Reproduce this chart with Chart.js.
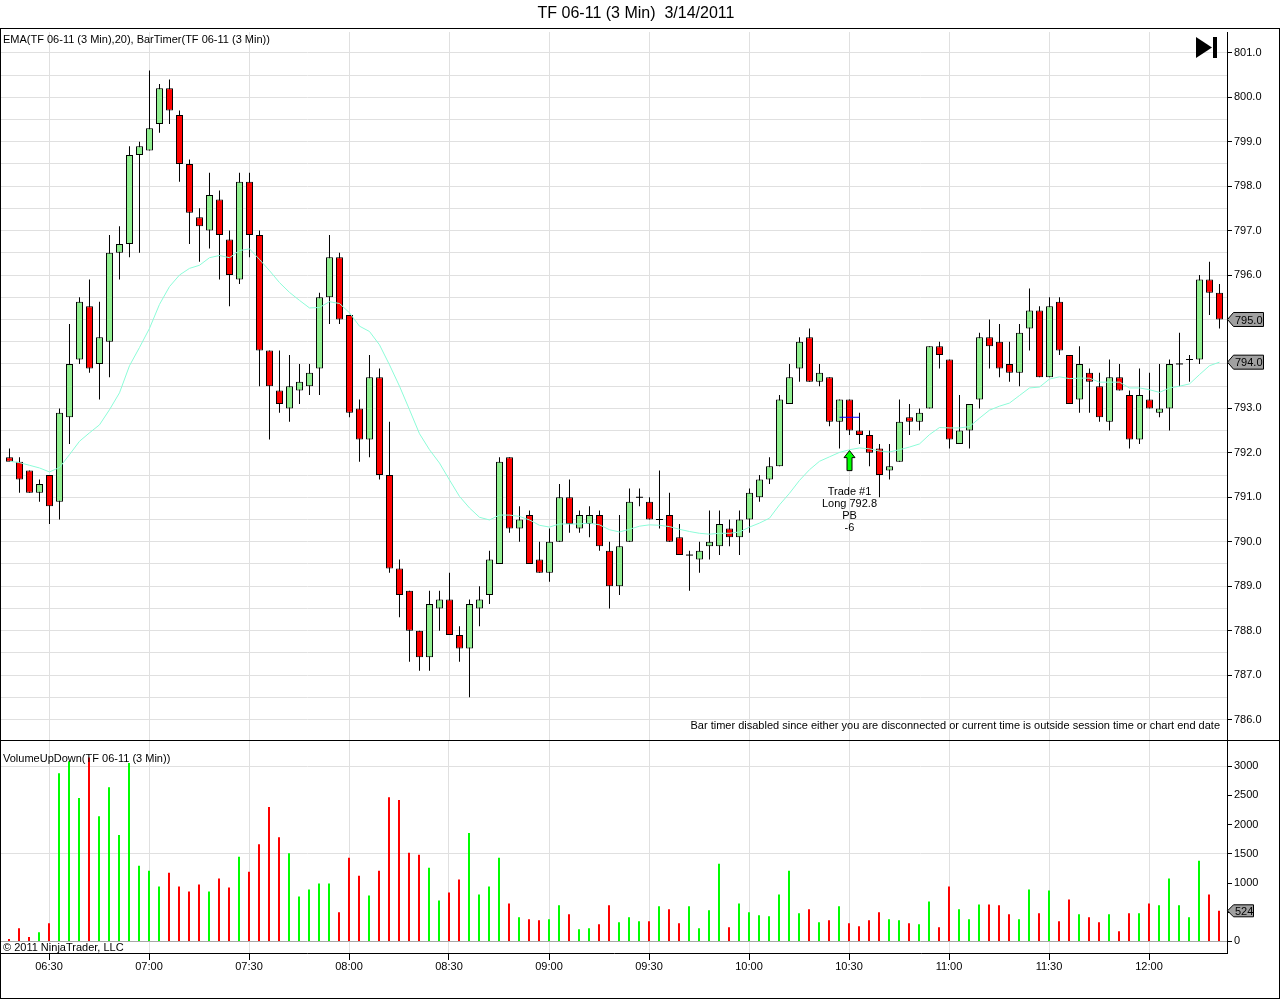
<!DOCTYPE html>
<html>
<head>
<meta charset="utf-8">
<title>TF 06-11 (3 Min) 3/14/2011</title>
<script src="https://cdn.jsdelivr.net/npm/chart.js@4"></script>
<style>
  html, body { margin: 0; padding: 0; background: #fff; }
  canvas { position: absolute; left: 0; }
  #priceChart { top: 0; }
  #volumeChart { top: 741px; }
  #frame { position: absolute; left: 0; top: 28px; width: 1278px; height: 969px; border: 1px solid #000; pointer-events: none; }
  #split { position: absolute; left: 0; top: 740px; width: 1280px; height: 1px; background: #000; }
</style>
</head>
<body>
<canvas id="priceChart" width="1280" height="741"></canvas>
<canvas id="volumeChart" width="1280" height="257"></canvas>
<div id="frame"></div>
<div id="split"></div>
<script>
// ===== Data =====
const barTimes = [
  '06:18','06:21','06:24','06:27','06:30','06:33','06:36','06:39','06:42','06:45','06:48','06:51','06:54','06:57',
  '07:00','07:03','07:06','07:09','07:12','07:15','07:18','07:21','07:24','07:27','07:30','07:33','07:36','07:39','07:42','07:45','07:48','07:51','07:54','07:57',
  '08:00','08:03','08:06','08:09','08:12','08:15','08:18','08:21','08:24','08:27','08:30','08:33','08:36','08:39','08:42','08:45','08:48','08:51','08:54','08:57',
  '09:00','09:03','09:06','09:09','09:12','09:15','09:18','09:21','09:24','09:27','09:30','09:33','09:36','09:39','09:42','09:45','09:48','09:51','09:54','09:57',
  '10:00','10:03','10:06','10:09','10:12','10:15','10:18','10:21','10:24','10:27','10:30','10:33','10:36','10:39','10:42','10:45','10:48','10:51','10:54','10:57',
  '11:00','11:03','11:06','11:09','11:12','11:15','11:18','11:21','11:24','11:27','11:30','11:33','11:36','11:39','11:42','11:45','11:48','11:51','11:54','11:57',
  '12:00','12:03','12:06','12:09','12:12','12:15','12:18','12:21'
];
const opens = [
  791.9,791.8,791.6,791.1,791.5,790.9,792.8,794.1,795.3,794.0,794.5,796.5,796.7,798.7,798.8,799.4,800.2,799.6,798.5,797.3,
  797.0,797.7,796.8,795.9,798.1,796.9,794.3,793.4,793.0,793.4,793.5,793.9,795.5,796.4,795.1,793.0,792.3,793.7,791.5,789.4,
  788.9,788.0,787.4,788.5,788.7,787.9,787.6,788.5,788.8,789.5,791.9,790.3,790.6,789.6,789.3,790.0,791.0,790.3,790.4,790.6,
  789.8,789.0,790.0,791.0,790.9,790.5,790.6,790.1,789.7,789.6,789.9,789.9,790.3,790.1,790.5,791.0,791.4,791.7,793.1,793.9,
  794.6,793.6,793.7,792.7,793.2,792.5,792.4,792.1,791.6,791.8,792.8,792.7,793.0,794.4,794.1,792.2,792.5,793.2,794.6,794.5,
  794.0,793.8,794.8,795.2,793.7,795.4,794.2,793.2,793.8,793.5,792.7,793.7,793.3,792.3,793.2,792.9,793.0,794.0,794.1,794.1,
  795.9,795.6
];
const highs = [
  792.1,791.9,791.6,791.4,791.5,793.0,794.9,795.5,795.9,795.4,796.9,797.1,798.9,799.0,800.6,800.3,800.4,799.7,798.6,797.5,
  798.3,797.9,797.0,798.3,798.3,797.0,794.3,794.3,794.2,794.0,794.0,795.6,796.9,796.5,795.1,793.2,794.2,793.9,792.7,789.6,
  788.9,788.0,788.9,788.9,789.3,788.1,788.7,789.0,789.8,791.9,791.9,790.8,790.7,790.0,790.3,791.3,791.4,790.7,790.8,790.7,
  790.0,790.6,791.2,791.2,791.0,791.6,791.1,790.4,789.8,790.0,790.7,790.7,790.5,790.7,791.2,791.5,791.9,793.3,794.0,794.6,
  794.8,794.0,793.7,793.2,793.2,792.9,792.5,792.2,792.2,793.2,793.1,793.0,794.4,794.5,794.1,793.3,793.1,794.7,795.0,794.9,
  794.5,794.9,795.7,795.3,795.5,795.5,794.2,794.4,793.9,793.8,794.1,794.0,793.4,793.9,793.8,794.0,794.1,794.7,794.2,796.0,
  796.3,795.8
];
const lows = [
  791.8,791.1,791.1,790.9,790.4,790.5,792.2,794.0,793.8,793.2,793.7,795.9,796.4,796.5,798.8,799.2,799.4,798.1,796.7,796.3,
  796.6,795.9,795.3,795.8,796.4,793.5,792.3,792.9,792.7,793.1,793.3,793.3,794.9,794.9,792.8,791.8,791.9,791.4,789.3,788.3,
  787.3,787.1,787.1,788.0,787.9,787.3,786.5,788.1,788.6,789.5,790.2,790.0,789.5,789.3,789.1,790.0,790.2,790.2,790.1,789.8,
  788.5,788.8,790.0,790.8,790.5,790.3,790.0,789.7,788.9,789.3,789.6,789.7,789.9,789.7,790.2,790.9,791.3,791.7,793.1,793.6,
  793.6,793.5,792.6,792.1,792.4,792.2,791.7,791.0,791.4,791.8,792.4,792.5,793.0,793.9,792.1,792.2,792.1,793.0,793.9,793.7,
  793.6,793.5,794.3,793.7,793.7,794.2,793.1,792.9,792.9,792.7,792.5,793.4,792.1,792.2,793.0,792.8,792.5,793.5,793.6,794.0,
  795.1,794.8
];
const closes = [
  791.8,791.4,791.1,791.3,790.8,792.9,794.0,795.4,793.9,794.6,796.5,796.7,798.7,798.9,799.3,800.2,799.7,798.5,797.4,797.1,
  797.8,796.9,796.0,798.1,796.9,794.3,793.5,793.1,793.5,793.6,793.8,795.5,796.4,795.0,792.9,792.3,793.7,791.5,789.4,788.8,
  788.0,787.4,788.6,788.7,787.9,787.6,788.6,788.7,789.6,791.8,790.3,790.5,789.5,789.3,790.0,791.0,790.4,790.6,790.6,789.9,
  789.0,789.9,790.9,791.0,790.5,790.5,790.0,789.7,789.7,789.8,790.0,790.4,790.1,790.5,791.1,791.4,791.7,793.2,793.7,794.5,
  793.6,793.8,792.7,793.2,792.5,792.4,792.0,791.5,791.7,792.7,792.7,792.9,794.4,794.2,792.3,792.5,793.1,794.6,794.4,793.9,
  793.8,794.7,795.2,793.7,795.3,794.3,793.1,794.0,793.6,792.8,793.7,793.4,792.3,793.3,793.0,793.0,794.0,794.0,794.1,795.9,
  795.6,795.0
];
const emaValues = [
  791.81,791.78,791.72,791.66,791.57,791.67,791.96,792.26,792.45,792.63,792.97,793.35,793.96,794.37,794.80,795.34,795.74,796.00,796.15,796.22,
  796.39,796.44,796.39,796.55,796.59,796.35,796.10,795.83,795.61,795.43,795.26,795.27,795.40,795.36,795.15,794.85,794.73,794.43,793.98,793.50,
  792.97,792.43,792.07,791.77,791.39,791.02,790.76,790.55,790.49,790.60,790.60,790.57,790.49,790.37,790.33,790.40,790.40,790.40,790.42,790.38,
  790.27,790.22,790.28,790.35,790.38,790.37,790.34,790.28,790.23,790.19,790.17,790.19,790.19,790.22,790.33,790.42,790.53,790.83,791.09,791.38,
  791.62,791.81,791.91,792.01,792.07,792.11,792.09,792.04,792.02,792.07,792.13,792.20,792.41,792.57,792.56,792.56,792.59,792.78,792.96,793.05,
  793.12,793.29,793.46,793.48,793.66,793.71,793.67,793.68,793.68,793.59,793.59,793.59,793.46,793.46,793.42,793.36,793.46,793.50,793.55,793.76,
  793.96,794.04
];
const volumes = [
  40,226,74,158,311,2880,3085,2455,3150,2145,2640,1820,3055,1296,1211,940,1177,940,855,974,
  855,1075,923,1449,1194,1665,2300,1785,1510,770,889,990,990,498,1432,1126,787,1211,2470,2420,
  1517,1483,1262,702,838,1058,1855,804,940,1432,651,413,379,362,379,617,464,209,226,294,
  617,328,413,345,345,600,549,311,600,226,532,1330,243,651,498,447,430,804,1211,481,
  549,328,362,600,311,260,362,498,379,362,311,294,685,243,940,549,379,634,634,617,
  464,379,889,481,872,345,719,464,413,328,464,175,481,481,651,617,1075,617,413,1381,
  804,524
];
const priceGridLines = [786,786.5,787,787.5,788,788.5,789,789.5,790,790.5,791,791.5,792,792.5,793,793.5,794,794.5,795,795.5,796,796.5,797,797.5,798,798.5,799,799.5,800,800.5,801];
const volumeTicks = [0,500,1000,1500,2000,2500,3000];
const volumeGridLines = [1500,3000];

// trade marker
const tradeBar = 84;
const tradeEntryBars = [83, 85];
const tradePrice = 792.8;
const tradeArrowPrice = 792.05;
const tradeLines = ['Trade #1', 'Long 792.8', 'PB', '-6'];

const titleText = 'TF 06-11 (3 Min)  3/14/2011';
const priceLabel = 'EMA(TF 06-11 (3 Min),20), BarTimer(TF 06-11 (3 Min))';
const volumeLabel = 'VolumeUpDown(TF 06-11 (3 Min))';
const timerNote = 'Bar timer disabled since either you are disconnected or current time is outside session time or chart end date';
const copyright = '\u00a9 2011 NinjaTrader, LLC';

// ===== Shared bits =====
const FONT = '"Liberation Sans", Arial, sans-serif';
const smallFont = '11px ' + FONT;
const gridGrey = '#e0e0e0';
const timeTicks = barTimes.map((t, i) => (t.endsWith(':00') || t.endsWith(':30')) ? i : -1).filter(i => i >= 0);
const bars = barTimes.map((t, i) => i);

Chart.defaults.animation = false;
Chart.defaults.font.family = FONT;
Chart.defaults.font.size = 11;
Chart.defaults.color = '#000';
Chart.defaults.responsive = false;
Chart.defaults.plugins.legend.display = false;
Chart.defaults.plugins.tooltip.enabled = false;

function fitY(scale) {
  scale.width = 53;
  scale.paddingTop = 0;
  scale.paddingBottom = 0;
}

// grey tag on the price axis
function drawTag(ctx, area, y, text, w, h) {
  const x = area.right;
  ctx.save();
  ctx.beginPath();
  ctx.moveTo(x + 0.5, y);
  ctx.lineTo(x + 6.5, y - h / 2);
  ctx.lineTo(x + 6.5 + w, y - h / 2);
  ctx.lineTo(x + 6.5 + w, y + h / 2);
  ctx.lineTo(x + 6.5, y + h / 2);
  ctx.closePath();
  ctx.fillStyle = '#a0a0a0';
  ctx.fill();
  ctx.strokeStyle = '#000';
  ctx.lineWidth = 1;
  ctx.stroke();
  ctx.fillStyle = '#000';
  ctx.font = smallFont;
  ctx.textAlign = 'left';
  ctx.textBaseline = 'middle';
  ctx.fillText(text, x + 8, y + 1);
  ctx.restore();
}

// ===== Price panel =====
const isUp = i => closes[i] >= opens[i];

const priceOverlay = {
  id: 'priceOverlay',
  afterDraw(chart) {
    const { ctx, chartArea: area, scales: { x, y } } = chart;
    ctx.save();
    ctx.fillStyle = '#000';
    ctx.textBaseline = 'middle';

    ctx.font = '16px ' + FONT;
    ctx.textAlign = 'center';
    ctx.fillText(titleText, 636, 14);

    ctx.font = smallFont;
    ctx.textAlign = 'left';
    ctx.fillText(priceLabel, 3, 40);
    ctx.textAlign = 'right';
    ctx.fillText(timerNote, 1220, 726);

    // end-of-chart button
    ctx.beginPath();
    ctx.moveTo(1196, 37);
    ctx.lineTo(1212, 47.5);
    ctx.lineTo(1196, 58);
    ctx.closePath();
    ctx.fill();
    ctx.fillRect(1213, 37, 4, 21);

    // trade arrow
    const ax = Math.round(x.getPixelForValue(tradeBar)) + 0.5;
    const ay = y.getPixelForValue(tradeArrowPrice);
    ctx.beginPath();
    ctx.moveTo(ax, ay);
    ctx.lineTo(ax + 5.5, ay + 7);
    ctx.lineTo(ax + 2.5, ay + 7);
    ctx.lineTo(ax + 2.5, ay + 20);
    ctx.lineTo(ax - 2.5, ay + 20);
    ctx.lineTo(ax - 2.5, ay + 7);
    ctx.lineTo(ax - 5.5, ay + 7);
    ctx.closePath();
    ctx.fillStyle = '#00ff00';
    ctx.fill();
    ctx.strokeStyle = '#000';
    ctx.lineWidth = 1;
    ctx.stroke();

    ctx.fillStyle = '#000';
    ctx.textAlign = 'center';
    tradeLines.forEach((line, i) => ctx.fillText(line, ax, 492 + i * 12));
    ctx.restore();

    const last = closes.length - 1;
    drawTag(ctx, area, y.getPixelForValue(closes[last]), closes[last].toFixed(1), 30, 14);
    drawTag(ctx, area, y.getPixelForValue(emaValues[last]), emaValues[last].toFixed(1), 30, 14);
  }
};

new Chart(document.getElementById('priceChart'), {
  type: 'bar',
  plugins: [priceOverlay],
  data: {
    datasets: [
      {
        label: 'wick', order: 4, grouped: false, barThickness: 1, inflateAmount: 0,
        backgroundColor: '#000', borderWidth: 0,
        data: bars.map(i => ({ x: i, y: [lows[i], highs[i]] }))
      },
      {
        label: 'body', order: 3, grouped: false, barThickness: 7, inflateAmount: 0,
        backgroundColor: bars.filter(i => opens[i] !== closes[i]).map(i => isUp(i) ? '#90ee90' : '#ff0000'),
        borderColor: '#000', borderWidth: 1, borderSkipped: false,
        data: bars.filter(i => opens[i] !== closes[i]).map(i => ({ x: i, y: [opens[i], closes[i]] }))
      },
      {
        label: 'doji', type: 'line', order: 2, showLine: false,
        pointStyle: 'line', pointRadius: 3.5, pointBorderColor: '#000', pointBorderWidth: 1,
        data: bars.filter(i => opens[i] === closes[i]).map(i => ({ x: i, y: closes[i] }))
      },
      {
        label: 'EMA', type: 'line', order: 1, borderColor: '#8cfcd8', borderWidth: 1, pointRadius: 0, tension: 0,
        data: bars.map(i => ({ x: i, y: emaValues[i] }))
      },
      {
        label: 'entry', type: 'line', order: 0, borderColor: '#0000ff', borderWidth: 1, pointRadius: 0,
        data: tradeEntryBars.map(i => ({ x: i, y: tradePrice }))
      }
    ]
  },
  options: {
    layout: { autoPadding: false, padding: { top: 32, left: 1, right: 0, bottom: 0 } },
    scales: {
      x: {
        type: 'linear', min: -0.849, max: 121.751, offset: false,
        ticks: { display: false },
        border: { display: false },
        grid: { color: gridGrey, drawTicks: false, offset: false },
        afterBuildTicks: s => { s.ticks = timeTicks.map(v => ({ value: v })); },
        afterFit: s => { s.height = 0; }
      },
      y: {
        position: 'right', min: 785.517, max: 801.468,
        border: { color: '#000' },
        grid: {
          color: gridGrey, tickLength: 5,
          tickColor: c => Number.isInteger(c.tick.value) ? '#000' : 'rgba(0,0,0,0)'
        },
        ticks: { padding: 2, autoSkip: false, callback: v => Number.isInteger(v) ? v.toFixed(1) : '' },
        afterBuildTicks: s => { s.ticks = priceGridLines.map(v => ({ value: v })); },
        afterFit: fitY
      }
    }
  }
});

// ===== Volume panel =====
const volumeOverlay = {
  id: 'volumeOverlay',
  afterDraw(chart) {
    const { ctx, chartArea: area, scales: { y } } = chart;
    ctx.save();
    ctx.fillStyle = '#000';
    ctx.font = smallFont;
    ctx.textBaseline = 'middle';
    ctx.textAlign = 'left';
    ctx.fillText(volumeLabel, 3, 18);
    ctx.fillText(copyright, 3, 207);
    ctx.restore();
    const last = volumes.length - 1;
    drawTag(ctx, area, y.getPixelForValue(volumes[last]), String(volumes[last]), 20, 12);
  }
};

new Chart(document.getElementById('volumeChart'), {
  type: 'bar',
  plugins: [volumeOverlay],
  data: {
    datasets: [{
      label: 'VolumeUpDown', barThickness: 2, inflateAmount: 0, borderWidth: 0,
      backgroundColor: bars.map(i => isUp(i) ? '#00ff00' : '#ff0000'),
      data: bars.map(i => ({ x: i, y: volumes[i] }))
    }]
  },
  options: {
    layout: { autoPadding: false, padding: { top: 0, left: 1, right: 0, bottom: 0 } },
    scales: {
      x: {
        type: 'linear', min: -0.8, max: 121.8, offset: false,
        border: { color: '#000' },
        grid: { color: gridGrey, tickColor: '#000', tickLength: 7, offset: false },
        ticks: { padding: 0, autoSkip: false, maxRotation: 0, minRotation: 0, callback: v => barTimes[v] },
        afterBuildTicks: s => { s.ticks = timeTicks.map(v => ({ value: v })); },
        afterFit: s => { s.height = 45; s.paddingLeft = 0; s.paddingRight = 0; }
      },
      y: {
        position: 'right', min: -198.6, max: 3431.5,
        border: { color: '#000' },
        grid: {
          tickLength: 5, tickColor: '#000',
          color: c => c.tick.value === 0 ? '#a8a8a8' : (volumeGridLines.includes(c.tick.value) ? gridGrey : 'rgba(0,0,0,0)')
        },
        ticks: { padding: 2, autoSkip: false, callback: v => String(v) },
        afterBuildTicks: s => { s.ticks = volumeTicks.map(v => ({ value: v })); },
        afterFit: fitY
      }
    }
  }
});
</script>
</body>
</html>
